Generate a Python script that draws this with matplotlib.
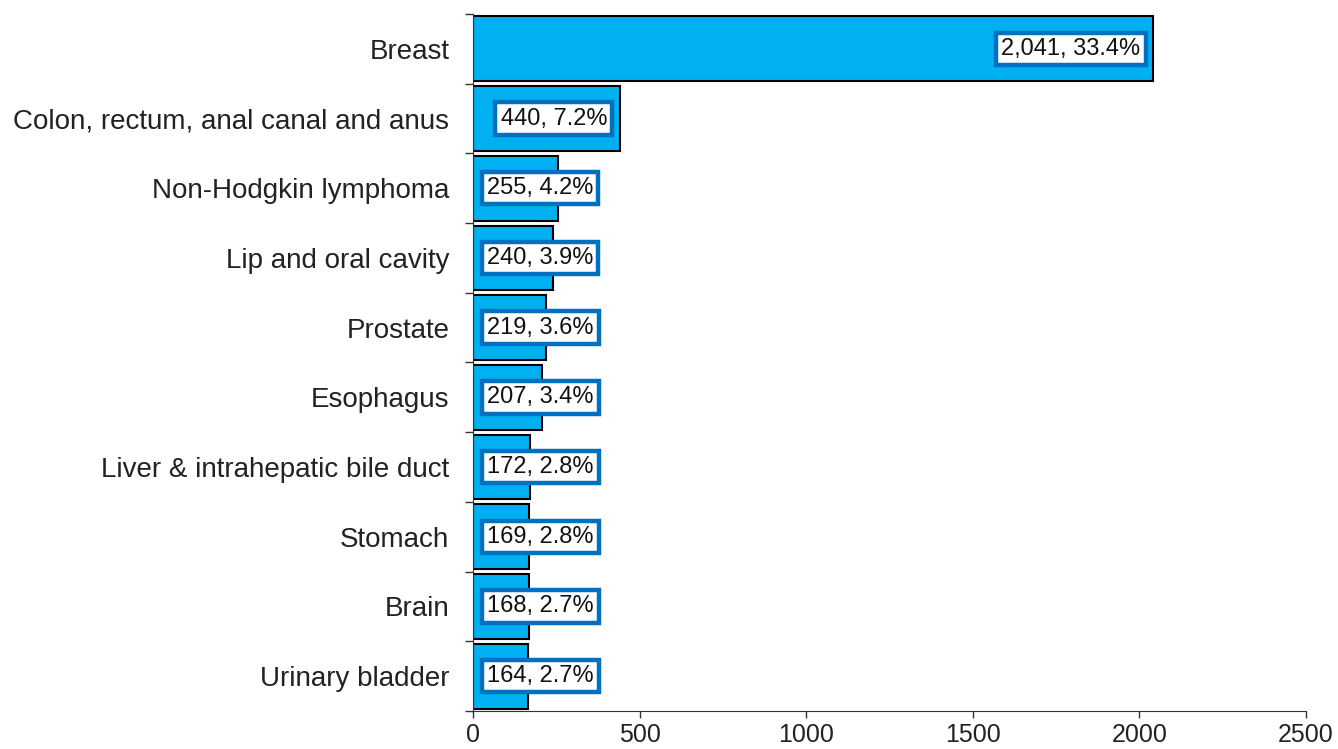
import matplotlib
matplotlib.use("Agg")
import matplotlib.pyplot as plt
from matplotlib.ticker import FixedLocator, NullFormatter

plt.rcParams['font.family'] = ['Liberation Sans', 'DejaVu Sans']

categories = ["Breast", "Colon, rectum, anal canal and anus", "Non-Hodgkin lymphoma",
              "Lip and oral cavity", "Prostate", "Esophagus",
              "Liver & intrahepatic bile duct", "Stomach", "Brain", "Urinary bladder"]
values = [2041, 440, 255, 240, 219, 207, 172, 169, 168, 164]
percents = [33.4, 7.2, 4.2, 3.9, 3.6, 3.4, 2.8, 2.8, 2.7, 2.7]
xticks = [0, 500, 1000, 1500, 2000, 2500]

fig = plt.figure(figsize=(13.38, 7.49), dpi=100)
ax = fig.add_axes([473/1338, 1 - 711/749, (1306-473)/1338, (711-14)/749])

n = len(categories)
ypos = list(range(n))
ax.barh(ypos, values, height=0.93, color='#00B0F0', edgecolor='black', linewidth=1.5)
ax.set_ylim(n - 0.5, -0.5)
ax.set_xlim(0, 2500)
ax.set_xticks(xticks)
ax.set_xticklabels([str(t) for t in xticks], fontsize=18)
ax.set_yticks(ypos)
ax.set_yticklabels(categories, fontsize=20, color='#222222')
ax.tick_params(axis='y', length=0, pad=17)
ax.yaxis.set_minor_locator(FixedLocator([i - 0.5 for i in range(n + 1)]))
ax.yaxis.set_minor_formatter(NullFormatter())
ax.tick_params(axis='y', which='minor', length=6, width=1, color='#333333')
ax.tick_params(axis='x', length=5, width=1, color='#333333', pad=4, labelcolor='#222222')
for s in ['top', 'right']:
    ax.spines[s].set_visible(False)
ax.spines['left'].set_color('#333333')
ax.spines['bottom'].set_color('#333333')

box = dict(boxstyle='square,pad=0.22', facecolor='white', edgecolor='#0070C0', linewidth=3.2)
for i, (v, p) in enumerate(zip(values, percents)):
    label = f"{v:,}, {p}%"
    if v > 400:
        ax.annotate(label, xy=(v, i), xytext=(-9, 0), textcoords='offset points',
                    ha='right', va='center', fontsize=17, bbox=box, color='#111111')
    else:
        ax.annotate(label, xy=(0, i), xytext=(10, 0), textcoords='offset points',
                    ha='left', va='center', fontsize=17, bbox=box, color='#111111')

fig.savefig('out.png', dpi=100)
